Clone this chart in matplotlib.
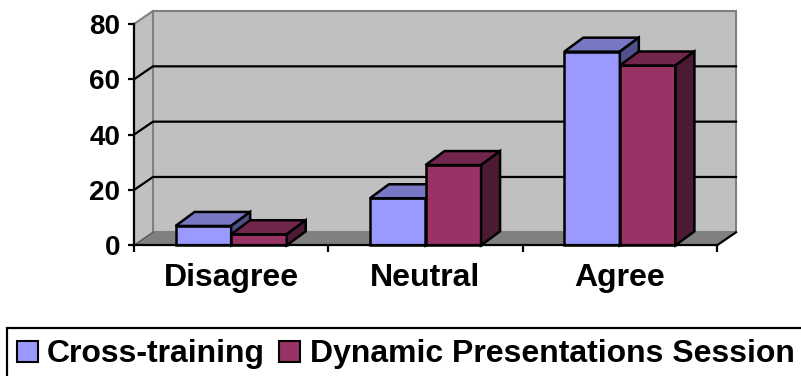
import matplotlib.pyplot as plt
from matplotlib.patches import Polygon, Rectangle

plt.rcParams['font.family'] = ['Liberation Sans', 'DejaVu Sans']
plt.rcParams['font.weight'] = 'bold'

categories = ['Disagree', 'Neutral', 'Agree']
cross_training = [7, 17, 70]
dynamic_session = [4, 29, 65]
series_names = ['Cross-training', 'Dynamic Presentations Session']
y_ticks = [0, 20, 40, 60, 80]

# face colours: front, top, side
blue = ('#9999FF', '#7777C4', '#50508C')
red = ('#993366', '#73264D', '#4D1A33')

W, H = 801, 376
fig = plt.figure(figsize=(W / 100, H / 100), dpi=100)

# front plane of the 3d box, in pixels
x_left, x_right, y_zero, y_top = 134, 717, 245.3, 24
ax = fig.add_axes([x_left / W, (H - y_zero) / H,
                   (x_right - x_left) / W, (y_zero - y_top) / H])
n = len(categories)
ymax = y_ticks[-1]
ax.set_xlim(0, n)
ax.set_ylim(0, ymax)
ax.patch.set_visible(False)

# depth offset converted to data units
dx = 19 / (x_right - x_left) * n
dy = 13 / (y_zero - y_top) * ymax
bdy = 14 / (y_zero - y_top) * ymax

# walls and floor
ax.add_patch(Polygon([(0, 0), (dx, dy), (dx, ymax + dy), (0, ymax)],
                     closed=True, fc='#C0C0C0', ec='none', clip_on=False, zorder=0))
ax.add_patch(Rectangle((dx, dy), n, ymax, fc='#C0C0C0', ec='#808080',
                       lw=1.5, clip_on=False, zorder=0))
ax.add_patch(Polygon([(0, 0), (n, 0), (n + dx, dy), (dx, dy)],
                     closed=True, fc='#808080', ec='none', clip_on=False, zorder=0.5))
for t in y_ticks[1:-1]:
    ax.plot([0, dx, n + dx], [t, t + dy, t + dy], color='black', lw=1.6,
            clip_on=False, zorder=1)
ax.plot([0, dx], [ymax, ymax + dy], color='#808080', lw=1.5, clip_on=False, zorder=1)
ax.plot([0, dx], [0, dy], color='#606060', lw=1.2, clip_on=False, zorder=1)
ax.plot([n, n + dx], [0, dy], color='black', lw=1.6, clip_on=False, zorder=1)

bw = 0.286


def bar3d(x0, h, cols):
    kw = dict(ec='black', lw=1.8, joinstyle='miter', clip_on=False, zorder=3)
    ax.add_patch(Rectangle((x0, 0), bw, h, fc=cols[0], **kw))
    ax.add_patch(Polygon([(x0, h), (x0 + dx, h + bdy), (x0 + bw + dx, h + bdy), (x0 + bw, h)],
                         closed=True, fc=cols[1], **kw))
    ax.add_patch(Polygon([(x0 + bw, 0), (x0 + bw + dx, bdy), (x0 + bw + dx, h + bdy), (x0 + bw, h)],
                         closed=True, fc=cols[2], **kw))


for i in range(n):
    bar3d(i + 0.5 - bw, cross_training[i], blue)
    bar3d(i + 0.5, dynamic_session[i], red)

# axes lines and ticks
for s in ['top', 'right']:
    ax.spines[s].set_visible(False)
for s in ['left', 'bottom']:
    ax.spines[s].set_linewidth(1.6)
    ax.spines[s].set_zorder(4)
ax.set_yticks(y_ticks)
ax.set_yticklabels([str(t) for t in y_ticks], fontsize=20, fontweight='bold')
ax.tick_params(axis='y', length=4, width=1.6, pad=6)
ax.set_xticks(range(n + 1))
ax.set_xticklabels([])
ax.set_xticks([i + 0.5 for i in range(n)], minor=True)
ax.set_xticklabels(categories, minor=True, fontsize=23, fontweight='bold')
ax.tick_params(axis='x', which='major', length=5, width=1.6)
ax.tick_params(axis='x', which='minor', length=0, pad=13)

# legend box, running off the right and bottom edges like the original
fig.add_artist(Rectangle((7 / W, -0.1), 1.0, (H - 328) / H + 0.1,
                         transform=fig.transFigure, fc='white', ec='black', lw=1.6))
legend_items = [(17, 47, blue[0]), (279, 310, red[0])]
for (px, tx, col), name in zip(legend_items, series_names):
    fig.add_artist(Rectangle((px / W, (H - 362) / H), 21 / W, 21 / H,
                             transform=fig.transFigure, fc=col, ec='black', lw=1.5))
    fig.text(tx / W, (H - 362) / H, name, fontsize=23, fontweight='bold',
             va='baseline', ha='left')

fig.savefig('out.png', dpi=100)
